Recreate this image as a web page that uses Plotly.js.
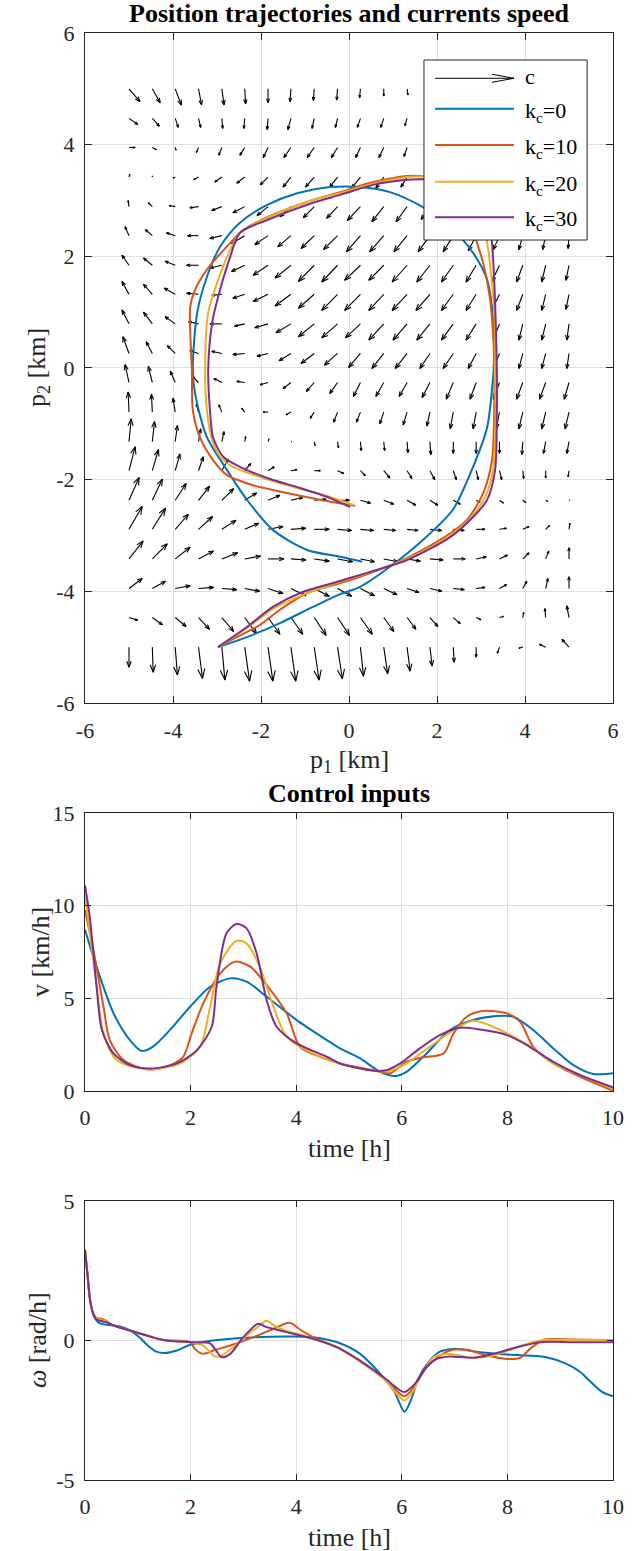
<!DOCTYPE html>
<html><head><meta charset="utf-8">
<script src="https://cdn.plot.ly/plotly-3.0.1.min.js"></script>
<style>html,body{margin:0;padding:0;background:#fff;}#chart{width:639px;height:1551px;}</style>
</head><body><div id="chart"></div>
<script>
// ---------------- DATA ----------------
// quiver grid (km)
const gridX = [-5,-4.47,-3.95,-3.42,-2.89,-2.37,-1.84,-1.32,-0.79,-0.26,0.26,0.79,1.32,1.84,2.37,2.89,3.42,3.95,4.47,5];
const gridY = [5,4.47,3.95,3.42,2.89,2.37,1.84,1.32,0.79,0.26,-0.26,-0.79,-1.32,-1.84,-2.37,-2.89,-3.42,-3.95,-4.47,-5];
// current components (rows follow gridY, columns follow gridX)
const currentU = [
[2.5,1.8,1.4,0.7,0.5,0.2,0,-0.2,-0.2,-0.2,-0.2,0,0.2,0.2,0.2,0,0,0,0,0],
[2.0,1.6,0.7,0.5,0.2,-0.2,-0.2,-0.7,-0.5,-0.5,-0.7,-0.7,-0.5,-0.5,-0.2,-0.2,-0.2,0,0,0],
[1.4,0.9,0.2,-0.5,-0.7,-1.1,-1.1,-1.6,-1.6,-1.4,-1.1,-1.1,-0.7,-0.7,-0.7,-0.5,-0.5,-0.2,-0.2,0],
[0.2,0,-0.5,-1.1,-1.6,-1.8,-1.8,-1.8,-2.0,-1.8,-2.0,-1.8,-1.4,-1.1,-0.9,-0.9,-0.7,-0.7,-0.5,-0.2],
[-0.2,-0.9,-1.4,-2.0,-2.3,-2.7,-2.5,-2.5,-2.5,-2.5,-3.0,-2.7,-2.5,-2.0,-1.8,-1.4,-1.1,-0.9,-0.7,-0.5],
[-0.9,-1.6,-2.0,-2.5,-2.7,-3.0,-3.0,-3.0,-3.0,-3.2,-3.2,-3.2,-3.0,-2.7,-2.3,-1.8,-1.4,-0.9,-0.7,-0.2],
[-1.6,-2.0,-2.3,-2.7,-2.7,-3.0,-3.4,-3.6,-3.6,-3.6,-3.6,-3.4,-3.4,-3.0,-2.7,-2.3,-1.8,-1.4,-0.9,-0.7],
[-1.6,-2.0,-2.5,-2.7,-2.3,-2.7,-3.4,-3.6,-3.6,-3.6,-3.6,-3.4,-3.4,-3.2,-2.7,-2.3,-1.8,-1.4,-0.9,-0.7],
[-1.6,-2.0,-2.3,-2.3,-2.7,-2.3,-3.0,-3.4,-3.6,-3.6,-3.4,-3.4,-3.2,-3.0,-2.7,-2.3,-1.4,-0.9,-0.9,-0.5],
[-1.4,-1.4,-1.8,-2.0,-2.3,-2.7,-2.5,-2.7,-3.0,-3.0,-2.7,-2.7,-2.7,-2.3,-2.3,-1.8,-1.4,-0.9,-0.9,-0.5],
[-0.9,-0.9,-1.1,-1.4,-1.8,-1.8,-1.8,-1.8,-1.8,-1.8,-1.6,-1.8,-1.8,-1.8,-1.6,-1.4,-1.4,-1.4,-1.4,-1.1],
[-0.2,-0.2,-0.5,-0.5,-0.7,-0.7,-1.1,-1.1,-0.9,-0.9,-0.9,-0.9,-0.9,-0.7,-0.7,-0.7,-0.7,-0.9,-0.9,-0.9],
[0.5,0.5,0.5,0.5,0.5,0.2,0.2,0.2,0.2,0.2,0.2,0.2,0.2,0.2,0,0,0,-0.2,-0.5,-0.5],
[1.4,1.4,1.1,1.1,1.4,1.4,1.4,1.4,1.4,1.4,1.1,1.4,1.1,1.1,0.7,0.5,0.5,0.2,0,-0.2],
[2.3,2.3,2.5,2.5,2.7,2.7,2.7,2.7,2.7,2.7,2.3,2.3,2.0,1.8,1.6,0.9,0.9,0.7,0.5,0.2],
[3.0,3.0,3.0,3.2,3.2,3.2,3.4,3.4,3.4,3.2,3.0,2.7,2.5,2.7,2.5,2.0,1.6,1.4,0.9,0.2],
[3.2,3.4,3.4,3.4,3.6,3.6,3.6,3.4,3.4,3.4,3.2,3.2,3.0,3.0,2.7,2.3,1.8,1.4,0.7,0],
[3.0,3.0,3.4,3.4,3.4,3.4,3.4,3.4,3.4,3.2,3.2,3.0,2.7,2.7,2.5,2.0,1.6,0.9,0.5,0],
[2.0,2.3,2.5,2.5,2.7,2.7,2.7,2.7,2.7,2.7,2.7,2.3,2.0,1.8,1.6,1.1,0.9,0.2,-0.2,-0.5],
[0,0.2,0.5,0.9,0.7,1.1,1.1,1.1,1.1,1.1,0.7,0.9,0.7,0.5,0.2,0,-0.5,-0.9,-1.4,-1.6]
];
const currentV = [
[-2.3,-2.5,-2.9,-2.9,-2.9,-2.7,-2.5,-2.3,-2.1,-2.0,-1.6,-1.3,-1.1,-0.9,-0.7,-0.7,-0.5,-0.5,-0.5,-0.4],
[-1.1,-1.4,-1.6,-1.6,-1.8,-1.8,-2.0,-2.0,-1.8,-1.6,-1.6,-1.6,-1.3,-1.1,-1.1,-0.9,-0.9,-0.7,-0.7,-0.5],
[0,-0.4,-0.5,-0.9,-1.4,-1.4,-1.8,-1.8,-1.8,-1.8,-1.8,-1.8,-1.6,-1.4,-1.4,-1.3,-1.3,-1.1,-1.1,-0.9],
[0.5,0.2,-0.2,-0.5,-0.9,-1.1,-1.4,-1.8,-1.8,-1.8,-2.0,-2.0,-1.8,-1.6,-1.6,-1.6,-1.4,-1.4,-1.4,-1.3],
[1.1,0.7,0.2,-0.2,-0.7,-1.1,-1.6,-1.8,-2.0,-2.1,-2.5,-2.7,-2.7,-2.3,-2.3,-2.1,-2.1,-2.1,-2.1,-2.0],
[1.6,1.1,0.5,0,-0.5,-1.4,-1.6,-2.0,-2.3,-2.5,-2.9,-2.9,-2.9,-2.9,-2.9,-2.7,-2.5,-2.5,-2.5,-2.3],
[1.8,1.3,0.7,0,-0.5,-1.1,-1.8,-2.3,-2.9,-3.0,-2.7,-2.7,-3.0,-3.0,-3.0,-3.0,-3.0,-3.0,-3.0,-2.7],
[2.3,1.8,1.1,0.2,-0.2,-0.7,-1.3,-2.1,-2.5,-2.9,-2.9,-2.9,-2.9,-2.9,-2.9,-2.9,-2.9,-2.9,-2.9,-2.7],
[2.5,2.1,1.3,0.4,0,-0.4,-0.7,-1.6,-2.3,-2.5,-2.5,-2.9,-2.9,-2.9,-2.9,-2.9,-2.9,-2.9,-2.9,-2.9],
[3.0,2.1,1.4,0.5,0.4,-0.2,-0.5,-1.3,-1.8,-2.1,-2.5,-2.7,-2.7,-2.7,-2.7,-2.7,-2.7,-2.7,-2.7,-2.7],
[3.2,2.9,2.0,1.1,0.7,0.2,-0.4,-1.1,-1.6,-2.0,-2.5,-2.5,-2.5,-2.7,-3.0,-3.0,-3.0,-3.0,-3.0,-3.0],
[3.6,3.2,2.5,1.4,1.3,0.7,0,-0.5,-1.1,-1.8,-1.8,-2.1,-2.3,-2.5,-3.0,-3.0,-3.0,-3.0,-3.0,-3.0],
[4.1,3.6,2.9,2.3,1.8,0.9,0.5,0,-0.7,-1.1,-1.6,-1.6,-2.0,-2.3,-2.1,-2.1,-2.1,-2.3,-2.1,-2.1],
[4.3,3.8,3.0,2.5,2.0,1.3,0.7,0.2,0,-0.5,-0.9,-1.3,-1.4,-1.6,-1.6,-1.6,-1.6,-1.4,-1.3,-1.1],
[4.1,3.8,3.0,2.5,2.1,1.3,0.9,0.5,0.2,0,-0.5,-0.7,-0.9,-0.9,-0.7,-0.4,-0.5,-0.4,-0.2,0],
[4.1,3.8,2.7,2.3,1.6,1.1,0.5,0.2,0,-0.2,-0.2,-0.2,-0.2,-0.2,-0.2,0,0.2,0.5,0.7,1.1],
[3.2,2.7,2.1,1.4,1.1,0.5,0,-0.2,-0.4,-0.5,-0.5,-0.5,-0.4,-0.2,0,0.4,0.7,1.1,1.4,2.0],
[1.8,1.3,0.5,0.2,-0.2,-0.5,-0.9,-1.3,-1.4,-1.4,-1.3,-1.1,-0.7,-0.5,-0.2,0.2,0.7,1.3,1.8,2.1],
[-0.5,-1.3,-1.6,-2.1,-2.5,-2.9,-3.0,-3.0,-3.2,-3.2,-3.0,-2.5,-2.1,-1.6,-1.1,-0.4,0.2,0.9,1.6,2.1],
[-3.6,-4.5,-5.0,-5.6,-5.9,-6.1,-6.1,-6.1,-5.9,-5.7,-5.2,-4.8,-4.3,-3.4,-2.7,-1.8,-1.1,-0.2,0.5,1.4]
];

// position trajectories p1, p2 (km)
const kc0_p1 = [-2.98,-2.32,-1.57,-0.82,-0.20,0.25,0.93,1.68,2.36,2.82,3.14,3.27,3.30,3.27,3.14,2.82,2.30,1.68,0.93,0.25,-0.43,-1.18,-1.86,-2.48,-2.93,-3.23,-3.45,-3.55,-3.50,-3.23,-2.77,-2.32,-1.73,-0.95,-0.20,0.30];
const kc0_p2 = [-5.00,-4.82,-4.57,-4.28,-4.05,-3.92,-3.56,-3.08,-2.54,-1.77,-1.06,-0.21,0.14,0.91,1.58,2.06,2.53,2.88,3.15,3.24,3.24,3.13,2.92,2.60,2.17,1.63,0.99,-0.04,-0.45,-1.24,-1.83,-2.36,-2.90,-3.26,-3.38,-3.47];
const kc10_p1 = [-2.98,-2.55,-2.02,-1.57,-0.95,-0.36,0.25,1.32,2.07,2.68,3.05,3.25,3.30,3.30,3.27,3.20,3.05,2.91,2.75,2.48,2.07,1.61,1.32,0.55,-0.20,-0.82,-1.86,-2.41,-2.64,-3.23,-3.50,-3.61,-3.61,-3.57,-3.55,-3.39,-3.09,-2.77,-2.18,-1.41,-0.66,0.14];
const kc10_p2 = [-5.00,-4.82,-4.60,-4.33,-4.03,-3.89,-3.74,-3.40,-3.08,-2.72,-2.24,-1.65,-0.75,0.14,0.68,1.27,1.88,2.24,2.74,3.10,3.37,3.44,3.44,3.33,3.15,3.01,2.70,2.47,2.29,1.76,1.40,1.09,0.68,-0.04,-0.75,-1.24,-1.65,-1.92,-2.10,-2.24,-2.36,-2.47];
const kc20_p1 = [-2.98,-2.40,-1.70,-1.00,-0.36,0.25,1.32,2.20,2.75,3.10,3.28,3.33,3.32,3.32,3.25,3.14,3.00,2.70,2.20,1.60,1.32,0.55,-0.20,-0.82,-1.86,-2.48,-2.77,-3.00,-3.20,-3.27,-3.23,-3.11,-2.93,-2.64,-1.95,-1.18,-0.43,0.09];
const kc20_p2 = [-5.00,-4.70,-4.30,-4.05,-3.87,-3.72,-3.42,-3.05,-2.70,-2.30,-1.80,-0.75,-0.04,0.68,1.52,2.24,2.80,3.20,3.40,3.43,3.42,3.30,3.13,3.01,2.69,2.42,1.99,1.52,0.99,-0.04,-0.75,-1.29,-1.59,-1.77,-1.97,-2.15,-2.31,-2.45];
const kc30_p1 = [-2.98,-2.32,-1.73,-1.11,-0.36,0.41,1.32,2.30,2.82,3.14,3.32,3.36,3.36,3.34,3.30,3.25,3.15,2.85,2.30,1.60,1.32,0.55,-0.20,-0.82,-1.86,-2.48,-2.70,-2.93,-3.11,-3.20,-3.16,-3.09,-2.86,-2.48,-1.86,-1.11,-0.43,0.02];
const kc30_p2 = [-5.00,-4.64,-4.28,-4.03,-3.85,-3.67,-3.44,-3.03,-2.67,-2.36,-1.83,-0.75,-0.04,0.68,1.58,2.24,2.80,3.18,3.36,3.38,3.37,3.28,3.10,2.96,2.65,2.42,1.99,1.40,0.81,-0.04,-0.75,-1.24,-1.59,-1.77,-1.97,-2.15,-2.33,-2.49];

// control input v (km/h) vs time (h)
const kc0_vt = [0,0.22,0.54,0.85,1.07,1.29,1.61,1.99,2.37,2.75,3.06,3.44,4.01,4.58,4.83,5.21,5.59,5.87,6.09,6.47,6.91,7.35,7.80,8.11,8.49,8.87,9.25,9.63,10];
const kc0_v  = [8.7,6.7,4.2,2.75,2.17,2.4,3.3,4.55,5.63,6.08,5.9,5.09,3.83,2.75,2.3,1.76,1.04,0.81,1.04,2.03,3.29,3.83,4.05,4.01,3.29,2.30,1.40,0.92,0.96];
const kc10_vt = [0,0.16,0.35,0.47,0.73,1.17,1.55,1.86,2.02,2.24,2.56,2.84,3.13,3.44,3.82,4.07,4.45,4.83,5.46,5.78,6.09,6.41,6.79,6.98,7.23,7.54,7.99,8.24,8.49,8.87,9.38,10];
const kc10_v  = [9.77,7.6,4.55,2.75,1.67,1.17,1.31,1.85,3.11,4.73,6.35,6.98,6.71,5.72,4.19,2.39,1.85,1.49,1.13,0.96,1.58,1.82,2.03,3.11,4.01,4.32,4.19,3.74,2.39,1.49,0.77,0.02];
const kc20_vt = [0,0.22,0.35,0.6,1.17,1.80,2.18,2.37,2.56,2.87,3.06,3.31,3.57,3.82,4.32,4.83,5.46,5.78,6.09,6.53,6.98,7.35,7.73,8.11,8.49,8.87,9.38,10];
const kc20_v  = [10.58,5.63,3.11,1.67,1.17,1.49,2.39,4.55,6.89,8.11,7.97,6.71,4.55,2.93,2.03,1.49,1.1,1.1,1.49,2.39,3.29,3.79,3.47,2.93,2.30,1.49,0.86,0.1];
const kc30_vt = [0,0.09,0.22,0.32,0.54,0.85,1.23,1.74,2.12,2.40,2.49,2.68,2.87,3.06,3.25,3.44,3.63,4.01,4.58,4.83,5.46,5.71,5.97,6.34,6.72,7.10,7.54,7.99,8.37,8.87,9.38,10];
const kc30_v  = [11.1,9.4,5.63,3.29,2.03,1.40,1.22,1.49,2.21,3.47,5.63,8.51,9.01,8.78,7.43,4.91,3.47,2.57,1.85,1.49,1.1,1.13,1.49,2.30,3.02,3.42,3.29,3.02,2.48,1.58,0.86,0.2];

// control input omega (rad/h) vs time (h)
const kc0_wt = [0,0.05,0.1,0.16,0.25,0.35,0.5,0.66,0.85,1.04,1.2,1.35,1.5,1.74,1.99,2.43,3.06,3.95,4.45,4.83,5.21,5.59,5.85,6.05,6.2,6.3,6.53,6.72,6.98,7.48,7.99,8.37,8.74,9.12,9.38,9.56,9.8,10];
const kc0_w  = [3.25,2.3,1.4,0.9,0.65,0.58,0.55,0.5,0.36,0.1,-0.2,-0.4,-0.45,-0.36,-0.15,0,0.1,0.14,0.08,-0.1,-0.48,-1.19,-1.8,-2.55,-2.0,-1.4,-0.72,-0.4,-0.3,-0.42,-0.5,-0.54,-0.6,-0.84,-1.13,-1.45,-1.85,-2.0];
const kc10_wt = [0,0.05,0.1,0.16,0.22,0.3,0.4,0.54,0.85,1.17,1.48,1.99,2.08,2.2,2.3,2.43,2.75,3.19,3.57,3.85,3.93,4.05,4.32,4.77,5.21,5.46,5.71,5.9,6.05,6.2,6.31,6.45,6.6,6.91,7.23,7.61,7.99,8.24,8.43,8.68,9.25,10];
const kc10_w  = [3.25,2.3,1.4,0.95,0.8,0.78,0.7,0.54,0.36,0.18,0.02,-0.06,-0.3,-0.46,-0.46,-0.36,-0.18,0.12,0.42,0.64,0.6,0.42,0.12,-0.24,-0.75,-1.08,-1.43,-1.8,-2.0,-1.75,-1.43,-1.0,-0.72,-0.36,-0.33,-0.54,-0.66,-0.62,-0.3,0.02,0.04,0.02];
const kc20_wt = [0,0.05,0.1,0.16,0.22,0.3,0.4,0.54,0.85,1.17,1.48,1.99,2.24,2.34,2.43,2.56,2.81,3.06,3.31,3.44,3.55,3.7,4.01,4.32,4.77,5.21,5.46,5.71,5.9,6.05,6.2,6.31,6.45,6.6,6.91,7.35,7.73,8.18,8.62,9.25,10];
const kc20_w  = [3.25,2.3,1.4,0.95,0.78,0.74,0.68,0.54,0.36,0.18,0.02,-0.06,-0.18,-0.36,-0.54,-0.57,-0.24,0.18,0.54,0.72,0.58,0.42,0.24,0.06,-0.24,-0.75,-1.08,-1.45,-1.9,-2.15,-1.85,-1.45,-1.0,-0.6,-0.48,-0.62,-0.54,-0.24,0,0.02,0.02];
const kc30_wt = [0,0.05,0.1,0.16,0.22,0.3,0.4,0.54,0.85,1.17,1.48,1.99,2.37,2.46,2.59,2.75,3.0,3.28,3.44,3.82,4.32,4.77,5.21,5.46,5.71,5.9,6.05,6.2,6.31,6.45,6.66,6.91,7.35,7.73,8.18,8.62,9.25,10];
const kc30_w  = [3.25,2.3,1.4,0.95,0.75,0.7,0.66,0.54,0.36,0.18,0.02,-0.06,-0.1,-0.3,-0.6,-0.48,0.12,0.6,0.48,0.3,0.06,-0.24,-0.72,-1.05,-1.4,-1.7,-1.85,-1.65,-1.4,-1.0,-0.66,-0.57,-0.62,-0.48,-0.24,-0.06,-0.06,-0.06];

const seriesNames = ['k<sub>c</sub>=0','k<sub>c</sub>=10','k<sub>c</sub>=20','k<sub>c</sub>=30'];
const tickPos = [-6,-4,-2,0,2,4,6];
const tickTime = [0,2,4,6,8,10];
const tickV = [0,5,10,15];
const tickW = [-5,0,5];

// ---------------- STYLE / LAYOUT ----------------
const W = 639, H = 1551, ML = 85, MR = 26, MT = 33, MB = 71;
const PW = W - ML - MR, PH = H - MT - MB;
const domTop = [0.537, 1], domMid = [0.2688, 0.4609], domBot = [0, 0.1928];
const colors = ['#0072BD','#D95319','#EDB120','#7E2F8E'];
const FONT = 'Liberation Serif, Times New Roman, serif';
const AXC = '#262626';
const QSCALE = 0.1;

// quiver geometry (arrow shafts + open heads)
const kx = PW / 12, ky = PH * (domTop[1]-domTop[0]) / 12;
const qx = [], qy = [];
for (let r = 0; r < gridY.length; r++) {
  for (let c = 0; c < gridX.length; c++) {
    const x = gridX[c], y = gridY[r];
    const u = currentU[r][c] * QSCALE, v = currentV[r][c] * QSCALE;
    const tx = x + u, ty = y + v;
    qx.push(x, tx, null); qy.push(y, ty, null);
    const dxp = u * kx, dyp = v * ky, L = Math.hypot(dxp, dyp);
    if (L < 0.5) continue;
    const ex = dxp / L, ey = dyp / L, h = 0.3 * L, w = 0.11 * L;
    const bx = -ex * h, by = -ey * h;
    qx.push(tx + (bx - ey * w) / kx, tx, tx + (bx + ey * w) / kx, null);
    qy.push(ty + (by + ex * w) / ky, ty, ty + (by - ex * w) / ky, null);
  }
}

const traces = [];
traces.push({x: qx, y: qy, type: 'scatter', mode: 'lines', line: {color: '#000', width: 1.1}, xaxis: 'x', yaxis: 'y', hoverinfo: 'skip'});
const P1 = [kc0_p1, kc10_p1, kc20_p1, kc30_p1], P2 = [kc0_p2, kc10_p2, kc20_p2, kc30_p2];
const VT = [kc0_vt, kc10_vt, kc20_vt, kc30_vt], VV = [kc0_v, kc10_v, kc20_v, kc30_v];
const WT = [kc0_wt, kc10_wt, kc20_wt, kc30_wt], WW = [kc0_w, kc10_w, kc20_w, kc30_w];
for (let i = 0; i < 4; i++) traces.push({x: P1[i], y: P2[i], type: 'scatter', mode: 'lines', line: {color: colors[i], width: 2, shape: 'spline', smoothing: 0.8}, xaxis: 'x', yaxis: 'y'});
for (let i = 0; i < 4; i++) traces.push({x: VT[i], y: VV[i], type: 'scatter', mode: 'lines', line: {color: colors[i], width: 2, shape: 'spline', smoothing: 0.8}, xaxis: 'x2', yaxis: 'y2'});
for (let i = 0; i < 4; i++) traces.push({x: WT[i], y: WW[i], type: 'scatter', mode: 'lines', line: {color: colors[i], width: 2, shape: 'spline', smoothing: 0.8}, xaxis: 'x3', yaxis: 'y3'});

function ax(extra) {
  return Object.assign({
    showline: true, mirror: 'ticks', linecolor: AXC, linewidth: 1,
    ticks: 'inside', ticklen: 6, tickwidth: 1, tickcolor: AXC,
    showgrid: true, gridcolor: '#dfdfdf', gridwidth: 1, zeroline: false,
    tickfont: {family: FONT, size: 22, color: AXC}, fixedrange: true, tickmode: 'array'
  }, extra);
}
const lab = v => v.map(String);

// pixel -> paper helpers for text placement
const py = p => 1 - (p - MT) / PH;
const pxp = p => (p - ML) / PW;

// manual legend (in axis-domain coordinates of top plot)
const legRows = [0.9324, 0.887, 0.8328, 0.778, 0.725];
const lx0 = 0.663, lx1 = 0.8125, ltx = 0.829;
const shapes = [
  {type: 'rect', xref: 'x domain', yref: 'y domain', x0: 0.642, x1: 0.951, y0: 0.691, y1: 0.9597, fillcolor: '#fff', line: {color: AXC, width: 1}, layer: 'above'},
  {type: 'line', xref: 'x domain', yref: 'y domain', x0: lx0, x1: lx1, y0: legRows[0], y1: legRows[0], line: {color: '#000', width: 1}, layer: 'above'},
  {type: 'line', xref: 'x domain', yref: 'y domain', x0: lx1 - 22/PW, x1: lx1, y0: legRows[0] + 4/670, y1: legRows[0], line: {color: '#000', width: 1}, layer: 'above'},
  {type: 'line', xref: 'x domain', yref: 'y domain', x0: lx1 - 22/PW, x1: lx1, y0: legRows[0] - 4/670, y1: legRows[0], line: {color: '#000', width: 1}, layer: 'above'}
];
for (let i = 0; i < 4; i++) shapes.push({type: 'line', xref: 'x domain', yref: 'y domain', x0: lx0, x1: lx1, y0: legRows[i+1], y1: legRows[i+1], line: {color: colors[i], width: 2}, layer: 'above'});

const annFont = {family: FONT, size: 22, color: '#000'};
const annotations = [
  {xref: 'x domain', yref: 'y domain', x: ltx, y: legRows[0], text: 'c', showarrow: false, xanchor: 'left', yanchor: 'middle', yshift: 2, font: annFont}
];
for (let i = 0; i < 4; i++) annotations.push({xref: 'x domain', yref: 'y domain', x: ltx, y: legRows[i+1], text: seriesNames[i], showarrow: false, xanchor: 'left', yanchor: 'middle', yshift: -3, font: annFont});

const titleFont = {family: FONT, size: 26, color: '#000'};
const labFont = {family: FONT, size: 26, color: AXC};
annotations.push(
  {xref: 'paper', yref: 'paper', x: 0.5, y: py(14), text: '<b>Position trajectories and currents speed</b>', showarrow: false, xanchor: 'center', yanchor: 'middle', font: titleFont},
  {xref: 'paper', yref: 'paper', x: 0.5, y: py(793), text: '<b>Control inputs</b>', showarrow: false, xanchor: 'center', yanchor: 'middle', font: titleFont},
  {xref: 'paper', yref: 'paper', x: 0.5, y: py(761), text: 'p<sub>1</sub> [km]', showarrow: false, xanchor: 'center', yanchor: 'middle', font: labFont},
  {xref: 'paper', yref: 'paper', x: pxp(38), y: py(368), text: 'p<sub>2</sub> [km]', showarrow: false, textangle: -90, xanchor: 'center', yanchor: 'middle', font: labFont},
  {xref: 'paper', yref: 'paper', x: 0.5, y: py(1148), text: 'time [h]', showarrow: false, xanchor: 'center', yanchor: 'middle', font: labFont},
  {xref: 'paper', yref: 'paper', x: pxp(40), y: py(952), text: 'v [km/h]', showarrow: false, textangle: -90, xanchor: 'center', yanchor: 'middle', font: labFont},
  {xref: 'paper', yref: 'paper', x: 0.5, y: py(1537), text: 'time [h]', showarrow: false, xanchor: 'center', yanchor: 'middle', font: labFont},
  {xref: 'paper', yref: 'paper', x: pxp(37), y: py(1340), text: '<i>ω</i> [rad/h]', showarrow: false, textangle: -90, xanchor: 'center', yanchor: 'middle', font: labFont}
);

const layout = {
  width: W, height: H, margin: {l: ML, r: MR, t: MT, b: MB},
  paper_bgcolor: '#fff', plot_bgcolor: '#fff', showlegend: false, hovermode: false,
  font: {family: FONT},
  xaxis: ax({domain: [0, 1], anchor: 'y', range: [-6, 6], tickvals: tickPos, ticktext: lab(tickPos), ticklen: 7, ticklabelstandoff: 8}),
  yaxis: ax({domain: domTop, anchor: 'x', range: [-6, 6], tickvals: tickPos, ticktext: lab(tickPos), ticklen: 7, ticklabelstandoff: 5}),
  xaxis2: ax({domain: [0, 1], anchor: 'y2', range: [0, 10], tickvals: tickTime, ticktext: lab(tickTime), ticklabelstandoff: 7}),
  yaxis2: ax({domain: domMid, anchor: 'x2', range: [0, 15], tickvals: tickV, ticktext: lab(tickV), ticklabelstandoff: 5}),
  xaxis3: ax({domain: [0, 1], anchor: 'y3', range: [0, 10], tickvals: tickTime, ticktext: lab(tickTime), ticklabelstandoff: 7}),
  yaxis3: ax({domain: domBot, anchor: 'x3', range: [-5, 5], tickvals: tickW, ticktext: lab(tickW), ticklabelstandoff: 5}),
  shapes: shapes, annotations: annotations
};

Plotly.newPlot('chart', traces, layout, {staticPlot: true, displayModeBar: false});
</script></body></html>
